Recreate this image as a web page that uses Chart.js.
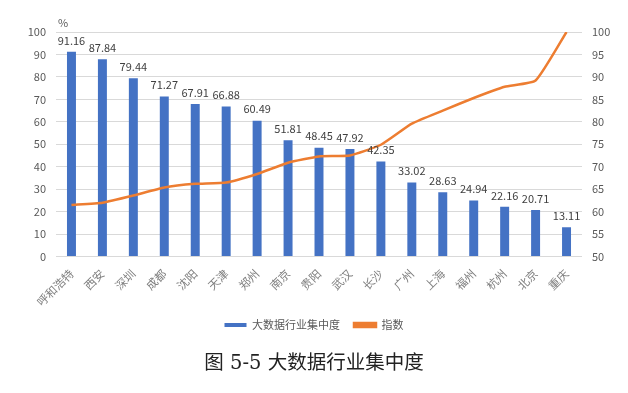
<!DOCTYPE html>
<html>
<head>
<meta charset="utf-8">
<script src="https://cdn.jsdelivr.net/npm/chart.js@4"></script>
<style>
  html, body { margin: 0; padding: 0; background: #fff; }
  #wrap { width: 628px; height: 393px; }
</style>
</head>
<body>
<div id="wrap"><canvas id="c" width="628" height="393"></canvas></div>
<script>
// city names along the x axis
const cities = ['呼和浩特', '西安', '深圳', '成都', '沈阳', '天津', '郑州', '南京', '贵阳',
  '武汉', '长沙', '广州', '上海', '福州', '杭州', '北京', '重庆'];
// concentration of the big data industry (%)
const concentration = [91.16, 87.84, 79.44, 71.27, 67.91, 66.88, 60.49, 51.81, 48.45,
  47.92, 42.35, 33.02, 28.63, 24.94, 22.16, 20.71, 13.11];
// index, right axis
const indexValues = [61.5, 62.0, 63.6, 65.4, 66.2, 66.5, 68.4, 70.9, 72.3,
  72.5, 74.9, 79.6, 82.5, 85.3, 87.8, 89.2, 100];

const textColor = '#595959';
const font = '"Noto Sans CJK SC", "Noto Sans", sans-serif';

// values above the bars and the "%" unit
const barLabels = {
  id: 'barLabels',
  afterDatasetsDraw(chart) {
    const ctx = chart.ctx;
    const meta = chart.getDatasetMeta(1);
    ctx.save();
    ctx.fillStyle = '#404040';
    ctx.font = '11px ' + font;
    ctx.textAlign = 'center';
    ctx.textBaseline = 'bottom';
    meta.data.forEach((bar, i) => {
      ctx.fillText(concentration[i].toFixed(2), bar.x, bar.y - 6);
    });
    ctx.fillStyle = textColor;
    ctx.textAlign = 'left';
    ctx.fillText('%', chart.chartArea.left + 2, chart.chartArea.top - 4);
    ctx.restore();
  }
};

new Chart(document.getElementById('c'), {
  data: {
    labels: cities,
    datasets: [
      {
        type: 'line',
        label: '指数',
        data: indexValues,
        yAxisID: 'y1',
        borderColor: '#ED7D31',
        backgroundColor: '#ED7D31',
        borderWidth: 2.5,
        pointRadius: 0,
        tension: 0.15,
        order: 0
      },
      {
        type: 'bar',
        label: '大数据行业集中度',
        data: concentration,
        yAxisID: 'y',
        backgroundColor: '#4472C4',
        barPercentage: 0.29,
        categoryPercentage: 1,
        order: 1
      }
    ]
  },
  options: {
    responsive: false,
    animation: false,
    layout: { padding: { top: 32, bottom: 17 } },
    plugins: {
      legend: {
        position: 'bottom',
        reverse: true,
        labels: {
          color: textColor,
          font: { size: 11, family: font },
          boxWidth: 22,
          boxHeight: 4,
          padding: 14
        }
      },
      title: {
        display: true,
        position: 'bottom',
        text: '图 5-5 大数据行业集中度',
        color: '#222',
        font: { size: 19.5, family: '"DejaVu Serif", "Noto Sans CJK SC", serif', weight: 'normal' },
        padding: { top: 12, bottom: 0 }
      },
      tooltip: { enabled: false }
    },
    scales: {
      x: {
        grid: { display: false },
        border: { display: false },
        ticks: {
          color: '#7f7f7f',
          font: { size: 11.5, family: font },
          maxRotation: 45,
          minRotation: 45,
          padding: 2
        },
        afterFit: s => { s.height = 49; }
      },
      y: {
        position: 'left',
        min: 0,
        max: 100,
        ticks: { stepSize: 10, color: textColor, font: { size: 11, family: font }, padding: 10 },
        grid: { color: '#d9d9d9', drawTicks: false },
        border: { display: false },
        afterFit: s => { s.width = 56; }
      },
      y1: {
        position: 'right',
        min: 50,
        max: 100,
        ticks: { stepSize: 5, color: textColor, font: { size: 11, family: font }, padding: 10 },
        grid: { display: false, drawTicks: false },
        border: { display: false },
        afterFit: s => { s.width = 46; }
      }
    }
  },
  plugins: [barLabels]
});
</script>
</body>
</html>
